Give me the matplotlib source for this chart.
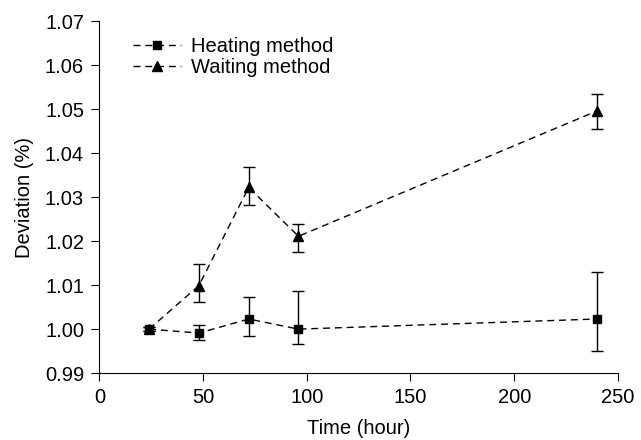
import numpy as np
import matplotlib
matplotlib.use("Agg")
import matplotlib.pyplot as plt

plt.rcParams['font.family'] = ['Liberation Sans', 'DejaVu Sans']

# data
hours = [24, 48, 72, 96, 240]
heating = [1.0000, 0.9991, 1.0023, 1.0000, 1.0023]
heating_lo = [0.0004, 0.0015, 0.0038, 0.0033, 0.0072]
heating_hi = [0.0004, 0.0018, 0.0051, 0.0086, 0.0107]
waiting = [1.0000, 1.0099, 1.0322, 1.0211, 1.0496]
waiting_lo = [0.0004, 0.0037, 0.0040, 0.0036, 0.0041]
waiting_hi = [0.0004, 0.0049, 0.0046, 0.0027, 0.0038]

fig = plt.figure(figsize=(6.41, 4.40), dpi=100)
ax = fig.add_axes([0.155, 0.152, 0.809, 0.800])

for y, lo, hi, m, ms, lab in [(heating, heating_lo, heating_hi, 's', 6, 'Heating method'),
                              (waiting, waiting_lo, waiting_hi, '^', 7, 'Waiting method')]:
    ax.errorbar(hours, y, yerr=[lo, hi], c='black', ls=(0, (5, 3.5)),
                lw=1.0, marker=m, ms=ms, capsize=4, elinewidth=1.0,
                label=lab)

ax.set_xlim(0, 250)
ax.set_ylim(0.99, 1.07)
ax.set_xticks([0, 50, 100, 150, 200, 250])
yt = np.arange(0.99, 1.0701, 0.01)
ax.set_yticks(yt)
ax.set_yticklabels(['%.2f' % v for v in yt])
ax.spines['top'].set_visible(False)
ax.spines['right'].set_visible(False)
ax.tick_params(direction='out', length=6, pad=5, labelsize=14.5)
ax.set_xlabel('Time (hour)', fontsize=14.5, labelpad=8)
ax.set_ylabel('Deviation (%)', fontsize=14.5, labelpad=8)

handles, labels = ax.get_legend_handles_labels()
handles = [h[0] for h in handles]
ax.legend(handles, labels, loc='upper left', frameon=False, fontsize=14.5,
          handlelength=2.4, handletextpad=0.5, bbox_to_anchor=(0.037, 0.995),
          borderaxespad=0.3, labelspacing=0.1)

fig.savefig('out.png', dpi=100)
